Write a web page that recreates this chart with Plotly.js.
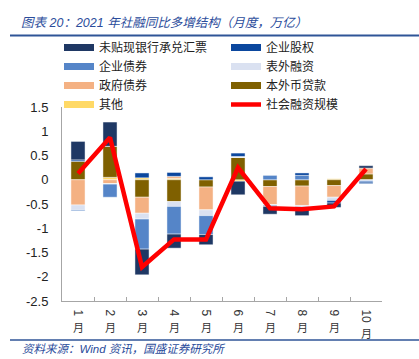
<!DOCTYPE html>
<html><head><meta charset="utf-8">
<script src="https://cdn.plot.ly/plotly-3.0.1.min.js"></script>
<style>html,body{margin:0;padding:0;background:#fff}#chart{width:419px;height:359px}</style>
</head><body><div id="chart"></div>
<script>
// ---- data (万亿, 同比多增) ----
const months = ['1月','2月','3月','4月','5月','6月','7月','8月','9月','10月'];
const other       = [0.00, 0.05, 0.04, 0.03, 0.00, -0.03, 0.00, 0.00, 0.02, 0.00];
const loans       = [0.38, 0.64, -0.36, -0.45, -0.15, 0.46, -0.14, -0.13, -0.12, 0.12];
const govBonds    = [-0.52, -0.08, -0.33, 0.04, -0.47, 0.00, -0.37, -0.40, -0.24, 0.12];
const offBalance  = [-0.10, -0.01, -0.12, -0.10, -0.12, 0.02, -0.02, -0.03, -0.05, -0.02];
const corpBonds   = [-0.02, -0.27, -0.62, -0.57, -0.39, 0.00, 0.09, 0.09, -0.02, -0.03];
const equity      = [0.03, 0.00, 0.10, 0.08, 0.06, 0.07, -0.02, 0.05, -0.05, -0.03];
const bankBills   = [0.38, 0.50, -0.53, -0.29, -0.21, -0.28, -0.16, -0.18, -0.09, 0.05];
const totalTSF    = [0.13, 0.87, -1.80, -1.23, -1.23, 0.25, -0.59, -0.61, -0.55, 0.22];
const yTickVals   = [-2.5, -2, -1.5, -1, -0.5, 0, 0.5, 1, 1.5];
const yTickLabels = ['-2.5', '-2', '-1.5', '-1', '-0.5', '0', '0.5', '1', '1.5'];
const seriesNames = ['其他', '本外币贷款', '政府债券', '表外融资', '企业债券', '企业股权', '未贴现银行承兑汇票'];
const lineName = '社会融资规模';
const titleText = '图表 20：2021 年社融同比多增结构（月度，万亿）';
const sourceText = '资料来源：<i>Wind</i> 资讯，国盛证券研究所';

// ---- styles ----
const seriesValues = [other, loans, govBonds, offBalance, corpBonds, equity, bankBills];
const seriesColors = ['#FFD966', '#7F6000', '#F4B183', '#DAE1F1', '#5585C8', '#0B479E', '#1F3864'];
const W = 419, H = 359;
const M = {l: 62, r: 37, t: 107, b: 58};
const PW = W - M.l - M.r, PH = H - M.t - M.b;
const px2x = p => (p - M.l) / PW;
const py2y = p => (H - M.b - p) / PH;
const cjk = '"Noto Sans CJK SC", sans-serif';
const latin = '"Liberation Sans", "Noto Sans CJK SC", sans-serif';
const blue = '#2B4C9B';

const traces = [];
seriesNames.forEach((name, i) => {
  traces.push({
    type: 'bar', name: name, x: months, y: seriesValues[i],
    marker: {color: seriesColors[i], line: {color: 'rgba(255,255,255,0.75)', width: 0.6}},
    showlegend: false, hoverinfo: 'skip'
  });
});
// legend entries (wide swatches)
seriesNames.forEach((name, i) => {
  traces.push({
    type: 'scatter', mode: 'lines', name: name, x: [null], y: [null],
    line: {color: seriesColors[i], width: 7},
    legendrank: seriesNames.length - i, hoverinfo: 'skip'
  });
});
traces.push({
  type: 'scatter', mode: 'lines', name: lineName, x: months, y: totalTSF,
  line: {color: '#FF0000', width: 4.5}, legendrank: 8, hoverinfo: 'skip'
});

const annotations = [
  {text: titleText, xref: 'paper', yref: 'paper', x: px2x(19), y: py2y(23), xanchor: 'left', yanchor: 'middle',
   showarrow: false, font: {family: latin, size: 12.5, color: blue, style: 'italic'}},
  {text: sourceText, xref: 'paper', yref: 'paper', x: px2x(20), y: py2y(349), xanchor: 'left', yanchor: 'middle',
   showarrow: false, font: {family: latin, size: 11.5, color: blue, style: 'italic'}}
];
months.forEach(m => {
  const n = m.replace('月', '').length;
  annotations.push({text: '月', x: m, xref: 'x', yref: 'paper', y: 0, yanchor: 'top', xanchor: 'center',
    yshift: -(9 + 6.5 * n), showarrow: false, font: {family: cjk, size: 11, color: '#333'}});
});

const layout = {
  width: W, height: H,
  margin: {l: M.l, r: M.r, t: M.t, b: M.b, pad: 0, autoexpand: false},
  paper_bgcolor: '#fff', plot_bgcolor: '#fff',
  barmode: 'relative', bargap: 0.56,
  showlegend: true,
  legend: {orientation: 'h', x: px2x(59), y: py2y(33), xanchor: 'left', yanchor: 'top',
    entrywidth: 122, entrywidthmode: 'pixels', itemwidth: 30, bgcolor: 'rgba(0,0,0,0)',
    font: {family: cjk, size: 12, color: '#222'}, traceorder: 'normal'},
  xaxis: {type: 'category', categoryarray: months, tickmode: 'array', tickvals: months,
    ticktext: months.map(m => m.replace('月', '')), tickangle: 90,
    ticks: 'inside', tickson: 'boundaries', ticklen: 4, tickcolor: '#A6A6A6', tickwidth: 1,
    showline: true, linecolor: '#A6A6A6', linewidth: 1, showgrid: false, zeroline: false,
    ticklabelstandoff: 5, tickfont: {family: latin, size: 12, color: '#333'}},
  yaxis: {range: [-2.5, 1.5], tickmode: 'array', tickvals: yTickVals, ticktext: yTickLabels,
    showline: true, linecolor: '#A6A6A6', linewidth: 1, ticks: '', showgrid: false, zeroline: false,
    ticklabelstandoff: 10, tickfont: {family: latin, size: 13, color: '#222'}},
  shapes: [
    {type: 'line', xref: 'paper', yref: 'paper', x0: px2x(10), x1: px2x(419), y0: py2y(35.5), y1: py2y(35.5),
     line: {color: '#2F5597', width: 2}},
    {type: 'line', xref: 'paper', yref: 'paper', x0: px2x(10), x1: px2x(419), y0: py2y(340), y1: py2y(340),
     line: {color: '#2F5597', width: 1.5}}
  ],
  annotations: annotations
};

Plotly.newPlot('chart', traces, layout, {displayModeBar: false, staticPlot: true});
</script>
</body></html>
